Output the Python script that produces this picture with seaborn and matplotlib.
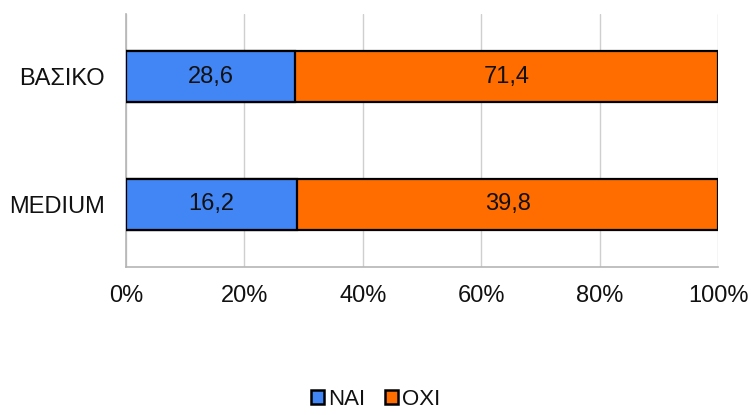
import matplotlib
matplotlib.use("Agg")
import matplotlib.pyplot as plt
import seaborn as sns
import pandas as pd
from matplotlib.patches import Patch

# Survey answers per package
categories = ["ΒΑΣΙΚΟ", "MEDIUM"]
nai_values = [28.6, 16.2]
oxi_values = [71.4, 39.8]
series_names = ["ΝΑΙ", "ΟΧΙ"]
tick_labels = ["0%", "20%", "40%", "60%", "80%", "100%"]

blue = "#4285f4"
orange = "#ff6d01"

sns.set_theme(style="white")
plt.rcParams["font.family"] = ["Liberation Sans", "DejaVu Sans"]

totals = [a + b for a, b in zip(nai_values, oxi_values)]
df = pd.DataFrame({
    "category": categories,
    "nai_pct": [a / t * 100 for a, t in zip(nai_values, totals)],
    "total_pct": [100.0 for _ in totals],
})

fig = plt.figure(figsize=(7.51, 4.15), dpi=100)
ax = fig.add_axes([126 / 751, 1 - 267 / 415, (718 - 126) / 751, (267 - 14) / 415])

# Full-width orange bars underneath, blue share drawn on top
sns.barplot(data=df, x="total_pct", y="category", orient="h", color=orange,
            saturation=1, width=0.4, edgecolor="black", linewidth=1.6, ax=ax, zorder=3)
sns.barplot(data=df, x="nai_pct", y="category", orient="h", color=blue,
            saturation=1, width=0.4, edgecolor="black", linewidth=1.6, ax=ax, zorder=4)

fmt = lambda v: f"{v:.1f}".replace(".", ",")
orange_bars, blue_bars = ax.containers[0], ax.containers[1]
for i, (b_o, b_n) in enumerate(zip(orange_bars, blue_bars)):
    y = b_n.get_y() + b_n.get_height() / 2
    nx = b_n.get_width() / 2
    ox = b_n.get_width() + (b_o.get_width() - b_n.get_width()) / 2
    ax.text(nx, y, fmt(nai_values[i]), ha="center", va="center", fontsize=17,
            color="#111111", zorder=5)
    ax.text(ox, y, fmt(oxi_values[i]), ha="center", va="center", fontsize=17,
            color="#111111", zorder=5)

ax.set_xlim(0, 100)
ax.set_ylim(1.49, -0.49)
ax.set_xticks(range(0, 101, 20))
ax.set_xticklabels(tick_labels)
ax.set_xlabel("")
ax.set_ylabel("")
ax.tick_params(axis="x", length=0, pad=13, labelsize=17, labelcolor="#111111")
ax.tick_params(axis="y", length=0, pad=15, labelsize=17, labelcolor="#111111")

ax.grid(axis="x", color="#cfcfcf", linewidth=1.0, zorder=0)
ax.set_axisbelow(True)
for side in ["top", "right"]:
    ax.spines[side].set_visible(False)
for side in ["left", "bottom"]:
    ax.spines[side].set_color("#b5b5b5")
    ax.spines[side].set_linewidth(1.2)

handles = [Patch(facecolor=blue, edgecolor="black", linewidth=1.8),
           Patch(facecolor=orange, edgecolor="black", linewidth=1.8)]
fig.legend(handles, series_names, loc="lower center", bbox_to_anchor=(0.5, -0.035),
           ncol=2, frameon=False, fontsize=16, handlelength=0.6, handleheight=0.6,
           handletextpad=0.15, columnspacing=0.9, labelcolor="#111111")

fig.savefig("out.png", dpi=100)
